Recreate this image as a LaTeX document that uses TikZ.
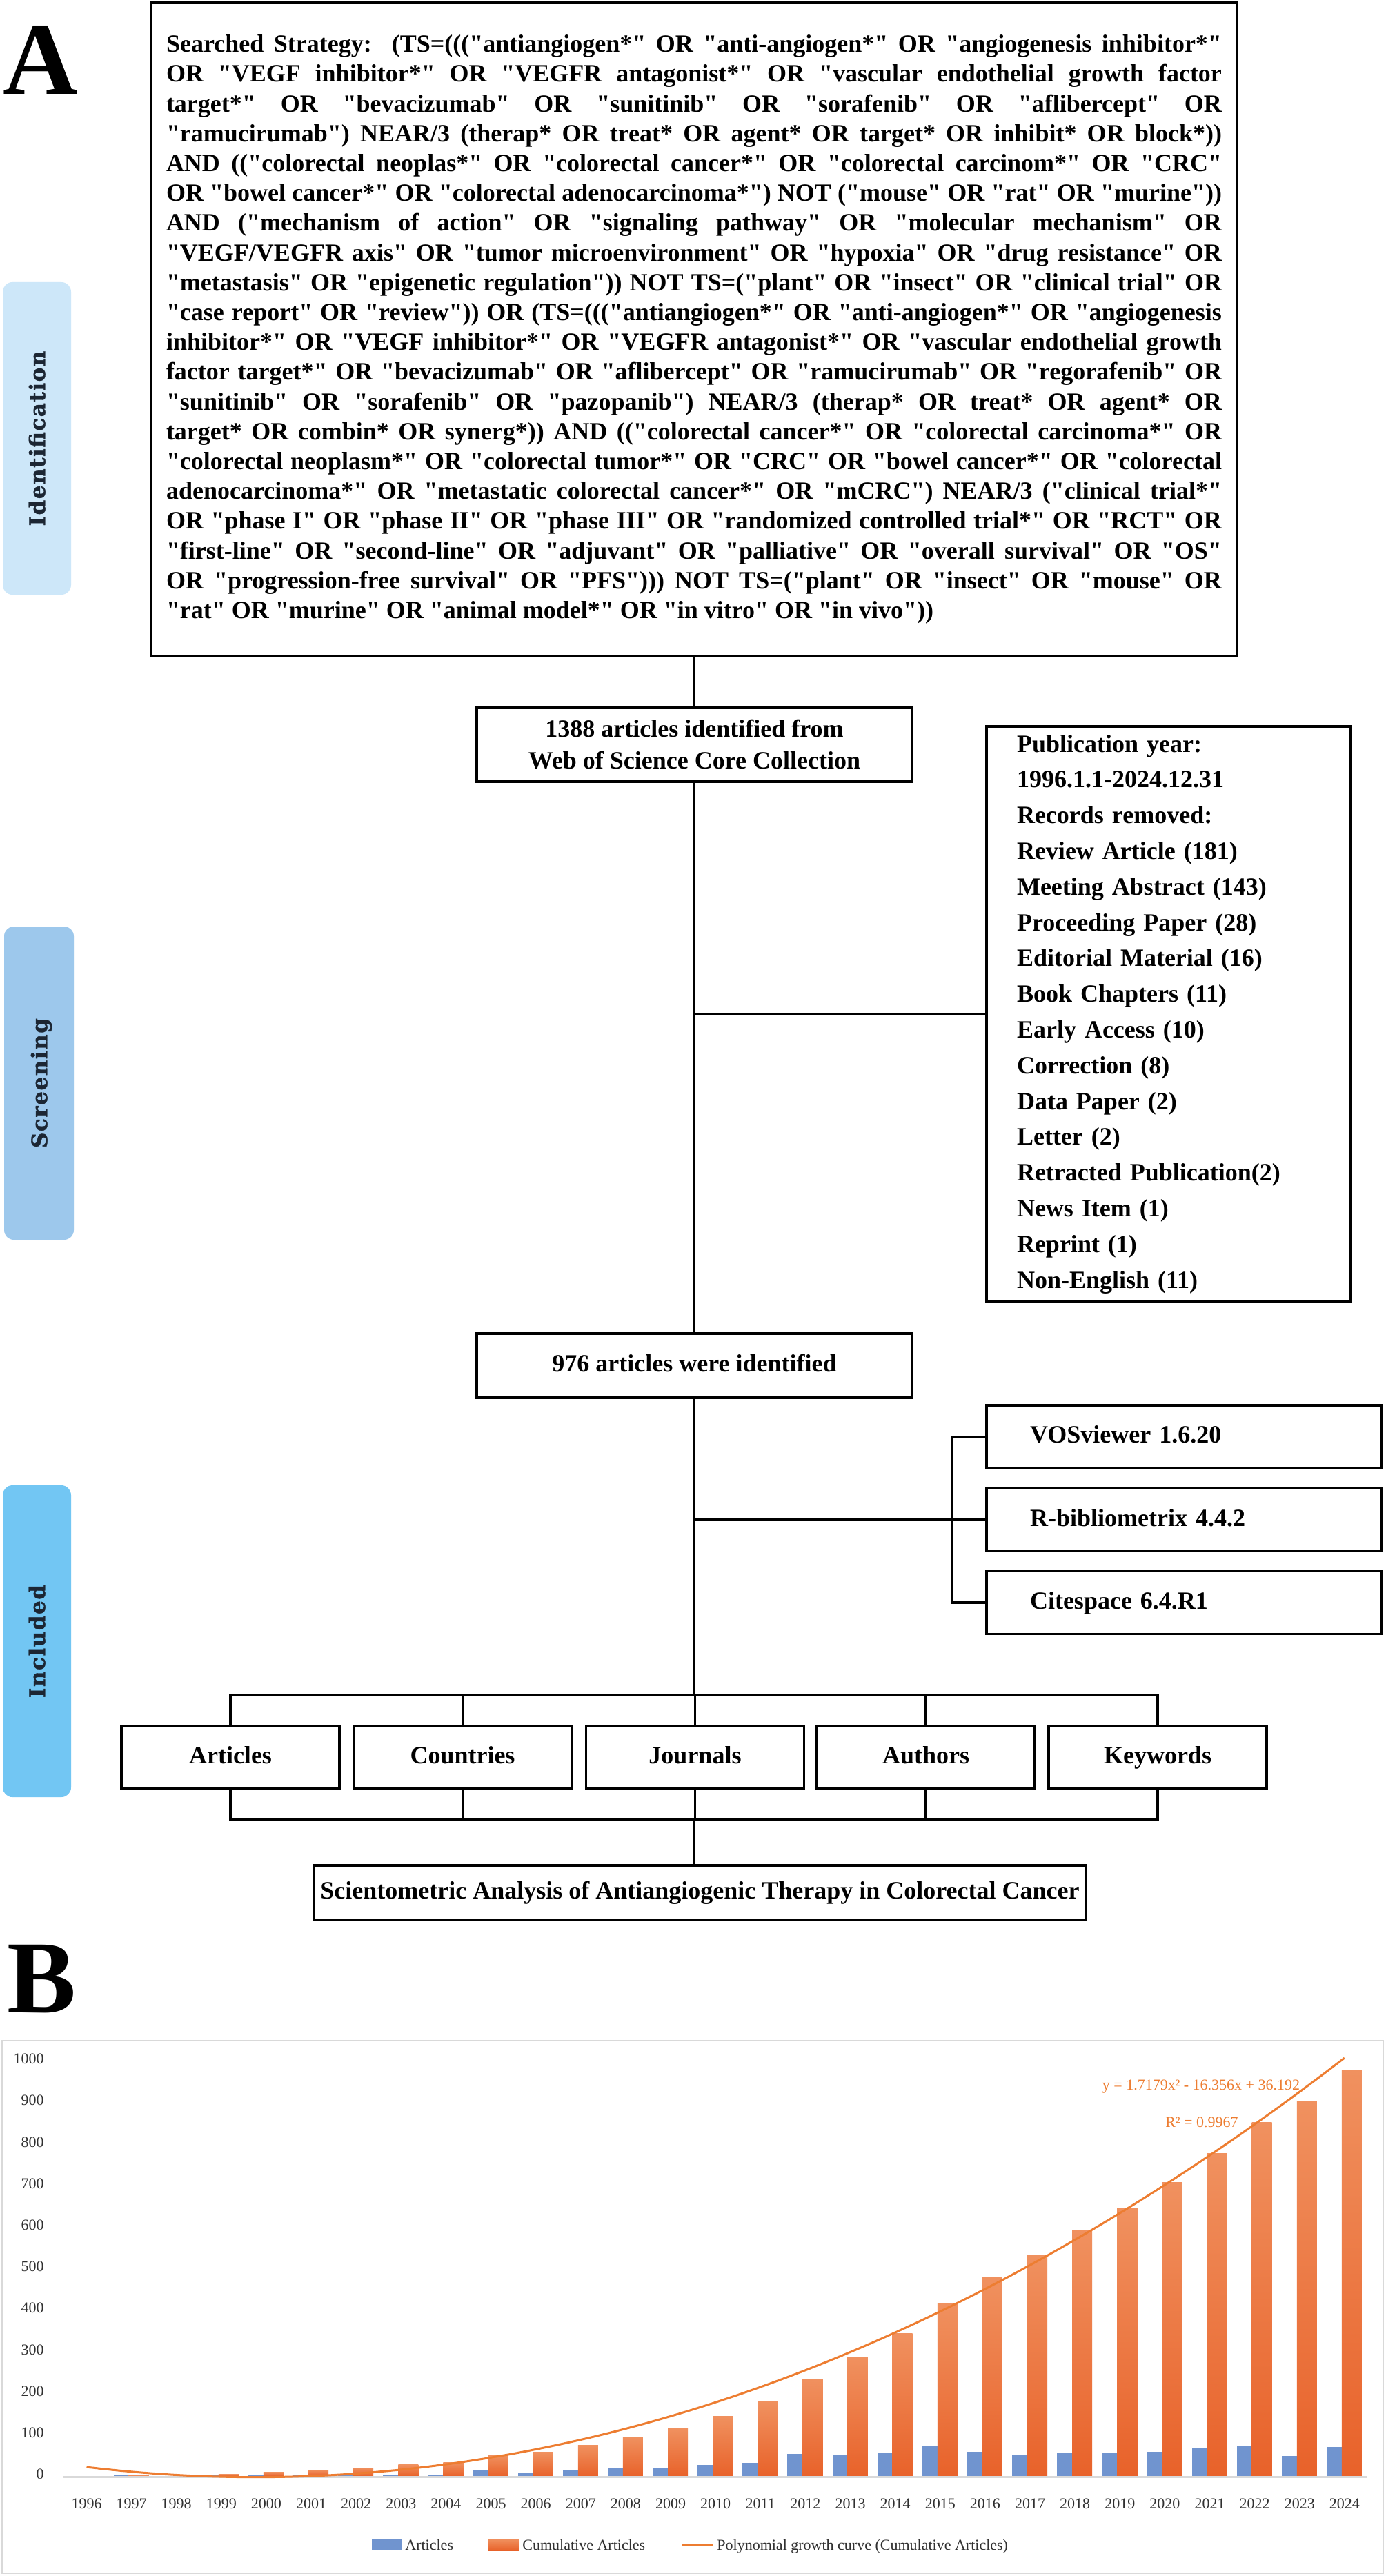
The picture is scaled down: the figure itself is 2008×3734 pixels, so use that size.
\documentclass[tikz,border=0pt]{standalone}
\usepackage{fontspec}
\setmainfont{Liberation Serif}[Ligatures=TeXOff]
\newfontfamily\pillfont{DejaVu Serif Bold}[LetterSpace=5,FakeBold=1.2]
\definecolor{pillA}{HTML}{CDE7F9}
\definecolor{pillB}{HTML}{9DC8EC}
\definecolor{pillC}{HTML}{72C6F3}
\definecolor{pilltxt}{HTML}{1C2633}
\definecolor{axisgray}{HTML}{D9D9D9}
\definecolor{labgray}{HTML}{303030}
\definecolor{orgTop}{HTML}{F0915F}
\definecolor{orgBot}{HTML}{E8622A}
\definecolor{orgMid}{HTML}{ED7D31}
\definecolor{barblue}{HTML}{7094CF}
\newcommand{\jline}[1]{\makebox[765pt][s]{#1}}
\begin{document}
\begin{tikzpicture}[x=0.5pt,y=-0.5pt,
  box/.style={draw=black,line width=1.7pt,fill=white,inner sep=0pt,align=center,font=\bfseries\fontsize{18}{23}\selectfont},
  sw/.style={box,align=left,text width=223.5pt,inner xsep=31.5pt,minimum height=45.5pt,text height=12.6pt,text depth=3.6pt},
  cat/.style={box,minimum width=158pt,minimum height=45.5pt,text height=12.6pt,text depth=3.6pt},
  conn/.style={line width=1.7pt},
  pill/.style={rounded corners=7pt,inner sep=0pt,rotate=90,text depth=0pt,text=pilltxt,font=\pillfont\fontsize{15.5}{15.5}\selectfont},
  panel/.style={inner sep=0pt,anchor=base west,font=\bfseries\fontsize{75}{75}\selectfont},
  tick/.style={inner sep=0pt,text=labgray,font=\fontsize{11}{11}\selectfont},
  ]
\fill[white] (0,0) rectangle (2008,3734);
\useasboundingbox (0,0) rectangle (2008,3734);

% side pills
\node[pill,fill=pillA,minimum width=226.5pt,minimum height=49.5pt] (pid) at (53.5,635.5) {Identification};
\node[pill,fill=pillB,minimum width=227pt,minimum height=50.5pt] (psc) at (56.5,1570) {Screening};
\node[pill,fill=pillC,minimum width=226pt,minimum height=49.5pt] (pin) at (53.5,2379) {Included};

% panel letters
\node[panel] (la) at (4,137) {A};
\node[panel] (lb) at (10,2917) {B};

% search strategy
\node[box,minimum width=787pt,minimum height=473.5pt,align=left,font=\bfseries\fontsize{18}{21.6}\selectfont] (search) at (1006,477.5) {%
\jline{Searched Strategy:\ \ (TS=((("antiangiogen*" OR "anti-angiogen*" OR "angiogenesis inhibitor*"}\\
\jline{OR "VEGF inhibitor*" OR "VEGFR antagonist*" OR "vascular endothelial growth factor}\\
\jline{target*" OR "bevacizumab" OR "sunitinib" OR "sorafenib" OR "aflibercept" OR}\\
\jline{"ramucirumab") NEAR/3 (therap* OR treat* OR agent* OR target* OR inhibit* OR block*))}\\
\jline{AND (("colorectal neoplas*" OR "colorectal cancer*" OR "colorectal carcinom*" OR "CRC"}\\
\jline{OR "bowel cancer*" OR "colorectal adenocarcinoma*") NOT ("mouse" OR "rat" OR "murine"))}\\
\jline{AND ("mechanism of action" OR "signaling pathway" OR "molecular mechanism" OR}\\
\jline{"VEGF/VEGFR axis" OR "tumor microenvironment" OR "hypoxia" OR "drug resistance" OR}\\
\jline{"metastasis" OR "epigenetic regulation")) NOT TS=("plant" OR "insect" OR "clinical trial" OR}\\
\jline{"case report" OR "review")) OR (TS=((("antiangiogen*" OR "anti-angiogen*" OR "angiogenesis}\\
\jline{inhibitor*" OR "VEGF inhibitor*" OR "VEGFR antagonist*" OR "vascular endothelial growth}\\
\jline{factor target*" OR "bevacizumab" OR "aflibercept" OR "ramucirumab" OR "regorafenib" OR}\\
\jline{"sunitinib" OR "sorafenib" OR "pazopanib") NEAR/3 (therap* OR treat* OR agent* OR}\\
\jline{target* OR combin* OR synerg*)) AND (("colorectal cancer*" OR "colorectal carcinoma*" OR}\\
\jline{"colorectal neoplasm*" OR "colorectal tumor*" OR "CRC" OR "bowel cancer*" OR "colorectal}\\
\jline{adenocarcinoma*" OR "metastatic colorectal cancer*" OR "mCRC") NEAR/3 ("clinical trial*"}\\
\jline{OR "phase I" OR "phase II" OR "phase III" OR "randomized controlled trial*" OR "RCT" OR}\\
\jline{"first-line" OR "second-line" OR "adjuvant" OR "palliative" OR "overall survival" OR "OS"}\\
\jline{OR "progression-free survival" OR "PFS"))) NOT TS=("plant" OR "insect" OR "mouse" OR}\\
"rat" OR "murine" OR "animal model*" OR "in vitro" OR "in vivo"))};

% screening
\node[box,minimum width=315.5pt,minimum height=54pt] (wos) at (1006.5,1079) {1388 articles identified from\\Web of Science Core Collection};
\node[box,align=left,text width=219.5pt,inner xsep=22pt,minimum height=417pt,font=\bfseries\fontsize{18}{25.9}\selectfont] (pub) at (1693.5,1470) {Publication year:\\1996.1.1-2024.12.31\\Records removed:\\Review Article (181)\\Meeting Abstract (143)\\Proceeding Paper (28)\\Editorial Material (16)\\Book Chapters (11)\\Early Access (10)\\Correction (8)\\Data Paper (2)\\Letter (2)\\Retracted Publication(2)\\News Item (1)\\Reprint (1)\\Non-English (11)};
\node[box,minimum width=315.5pt,minimum height=46.5pt,text height=12.6pt,text depth=3.6pt] (n976) at (1006.5,1979.5) {976 articles were identified};

% software
\node[sw] (vos) at (1716.5,2082.5) {VOSviewer 1.6.20};
\node[sw] (rbib) at (1716.5,2203) {R-bibliometrix 4.4.2};
\node[sw] (cite) at (1716.5,2323) {Citespace 6.4.R1};

% categories
\node[cat] (art) at (334,2547.5) {Articles};
\node[cat] (cou) at (670.5,2547.5) {Countries};
\node[cat] (jou) at (1007.5,2547.5) {Journals};
\node[cat] (aut) at (1342,2547.5) {Authors};
\node[cat] (kw) at (1678,2547.5) {Keywords};
\node[box,minimum width=560pt,minimum height=39.5pt,text height=12.6pt,text depth=3.6pt] (fin) at (1014.5,2743.5) {Scientometric Analysis of Antiangiogenic Therapy in Colorectal Cancer};

% connectors
\coordinate (tb) at (1006.5,2457);
\coordinate (bb) at (1006.5,2637);
\draw[conn] (wos.north |- search.south) -- (wos.north);
\draw[conn] (wos.south) -- (n976.north);
\draw[conn] (wos.south |- pub.west) -- (pub.west);
\draw[conn] (n976.south) -- (tb);
\draw[conn] (n976.south |- rbib.west) -- (rbib.west);
\draw[conn] (vos.west) -- ++(-49,0) |- (cite.west);
\draw[conn] (art.north) |- (tb) -| (kw.north);
\draw[conn] (cou.north) -- (cou.north |- tb);
\draw[conn] (jou.north) -- (jou.north |- tb);
\draw[conn] (aut.north) -- (aut.north |- tb);
\draw[conn] (art.south) |- (bb) -| (kw.south);
\draw[conn] (cou.south) -- (cou.south |- bb);
\draw[conn] (jou.south) -- (jou.south |- bb);
\draw[conn] (aut.south) -- (aut.south |- bb);
\draw[conn] (bb) -- (bb |- fin.north);

% ---------- chart B ----------
\draw[draw=axisgray,line width=1pt] (3,2958) rectangle (2005,3730);
\foreach \v in {0,100,...,1000}
  \node[tick,anchor=east] at (64,{3586.5-0.602*\v}) {\v};
\foreach \yr [count=\k] in {1996,...,2024}
  \node[tick] at ({125.5+65.12*(\k-1)},3629) {\yr};
\foreach \a/\c [count=\k] in {0/0,1/2,0/3,1/5,3/10,4/15,3/20,4/27,4/33,15/50,6/57,15/74,18/94,20/115,27/144,32/178,54/234,52/287,56/343,71/416,59/477,52/530,57/590,56/646,59/707,67/777,72/851,48/901,70/976}{
  \pgfmathsetmacro\cx{125.5+65.12*(\k-1)}
  \ifnum\a>0 \fill[barblue] ({\cx-26},3589) rectangle ({\cx-4},{3589-0.602*\a}); \fi
  \ifnum\c>0 \shade[top color=orgTop,bottom color=orgBot] ({\cx-4},3589) rectangle ({\cx+25},{3589-0.602*\c}); \fi
}
\draw[axisgray,line width=1.5pt] (92,3590) -- (1981,3590);
\draw[orgMid,line width=1.5pt] plot[domain=1:29,samples=80,smooth] ({125.5+65.12*(\x-1)},{3589-0.602*(1.7179*\x*\x-16.356*\x+36.192)});
\node[tick,text=orgMid] (eq) at (1741,3025) {y = 1.7179x² - 16.356x + 36.192};
\node[tick,text=orgMid] (r2) at (1742,3076) {R² = 0.9967};
% legend
\fill[barblue] (539,3680) rectangle (582,3697);
\node[tick,anchor=base west] (l1) at (587,3696) {Articles};
\shade[top color=orgTop,bottom color=orgBot] (708,3680) rectangle (752,3697);
\node[tick,anchor=base west] (l2) at (757,3696) {Cumulative Articles};
\draw[orgMid,line width=1.5pt] (989,3689) -- (1034,3689);
\node[tick,anchor=base west] (l3) at (1039,3696) {Polynomial growth curve (Cumulative Articles)};
\end{tikzpicture}
\end{document}
